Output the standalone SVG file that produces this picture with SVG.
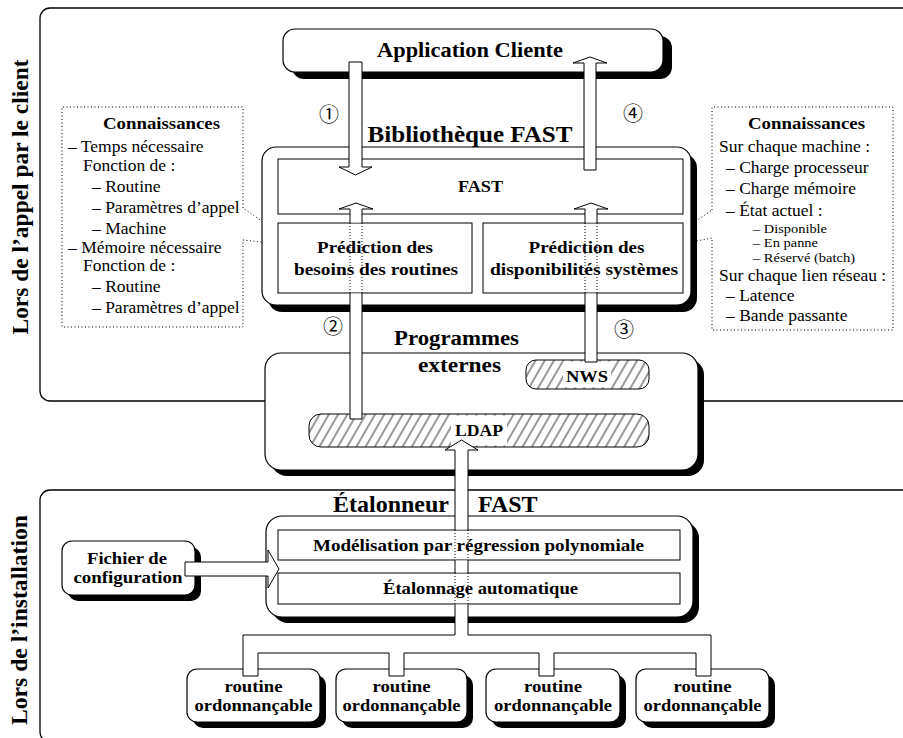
<svg xmlns="http://www.w3.org/2000/svg" width="903" height="738" viewBox="0 0 903 738">
<defs>
<pattern id="hatch" width="8" height="8" patternUnits="userSpaceOnUse" patternTransform="rotate(30)">
<rect width="8" height="8" fill="#fff"/>
<line x1="4" y1="0" x2="4" y2="8" stroke="#000" stroke-width="0.8"/>
</pattern>
</defs>
<style>
.frame{fill:none;stroke:#000;stroke-width:1.3}
.box{fill:#fff;stroke:#000;stroke-width:1.2}
.sh{fill:#000}
.in{fill:#fff;stroke:#000;stroke-width:1}
.hb{fill:url(#hatch);stroke:#000;stroke-width:1}
.dot{fill:none;stroke:#000;stroke-width:1;stroke-dasharray:1 2.5}
.b{font-family:"Liberation Serif","Times New Roman",serif;font-weight:bold;text-anchor:middle;fill:#000}
.r{font-family:"Liberation Serif","Times New Roman",serif;font-size:17.5px;fill:#000}
.s{font-family:"Liberation Serif","Times New Roman",serif;font-size:13px;fill:#000}
.af{fill:#fff;stroke:none}
.as{fill:none;stroke:#000;stroke-width:1}
.aw{fill:#fff;stroke:#000;stroke-width:1}
.ad{fill:none;stroke:#000;stroke-width:1;stroke-dasharray:1 2}
.num{font-family:"Noto Sans CJK JP","DejaVu Sans",sans-serif;font-size:20px;text-anchor:middle;fill:#000}
</style>

<g id="frames">
<rect class="frame" x="40" y="8" width="900" height="393" rx="10"/>
<rect class="frame" x="40" y="490" width="900" height="252" rx="10"/>
<text class="b" transform="translate(28,197) rotate(-90)" font-size="23" textLength="275" lengthAdjust="spacingAndGlyphs">Lors de l’appel par le client</text>
<text class="b" transform="translate(27,620) rotate(-90)" font-size="23" textLength="210" lengthAdjust="spacingAndGlyphs">Lors de l’installation</text>
</g>

<g id="connaissances-routines">
<path class="dot" d="M243,208 V107 H62 V327 H243 V240 L298,246 Z"/>
<text class="b" x="161.5" y="129" font-size="17.5" textLength="117" lengthAdjust="spacingAndGlyphs">Connaissances</text>
<text class="r" x="68" y="152">– Temps nécessaire</text>
<text class="r" x="83" y="171">Fonction de :</text>
<text class="r" x="92" y="192">– Routine</text>
<text class="r" x="92" y="213">– Paramètres d’appel</text>
<text class="r" x="92" y="233.5">– Machine</text>
<text class="r" x="68" y="252.5">– Mémoire nécessaire</text>
<text class="r" x="83" y="271">Fonction de :</text>
<text class="r" x="92" y="292">– Routine</text>
<text class="r" x="92" y="313">– Paramètres d’appel</text>
</g>

<g id="connaissances-systemes">
<path class="dot" d="M712,210 V107 H893 V330 H712 V238 L656,249 Z"/>
<text class="b" x="806.5" y="129" font-size="17.5" textLength="117" lengthAdjust="spacingAndGlyphs">Connaissances</text>
<text class="r" x="719" y="152">Sur chaque machine :</text>
<text class="r" x="726" y="173">– Charge processeur</text>
<text class="r" x="726" y="194">– Charge mémoire</text>
<text class="r" x="726" y="216">– État actuel :</text>
<text class="s" x="753" y="232.5" textLength="74" lengthAdjust="spacingAndGlyphs">– Disponible</text>
<text class="s" x="753" y="247" textLength="65" lengthAdjust="spacingAndGlyphs">– En panne</text>
<text class="s" x="753" y="261.5" textLength="102" lengthAdjust="spacingAndGlyphs">– Réservé (batch)</text>
<text class="r" x="719" y="281">Sur chaque lien réseau :</text>
<text class="r" x="726" y="300.5">– Latence</text>
<text class="r" x="726" y="321">– Bande passante</text>
</g>

<g id="application-cliente">
<rect class="sh" x="292" y="36" width="380" height="43" rx="12"/>
<rect class="box" x="283" y="29" width="380" height="43" rx="12"/>
<text class="b" x="470" y="57" font-size="20" textLength="186" lengthAdjust="spacingAndGlyphs">Application Cliente</text>
</g>

<g id="bibliotheque-fast">
<rect class="sh" x="268" y="154" width="429" height="158" rx="14"/>
<rect class="box" x="262" y="147" width="429" height="158" rx="14"/>
<text class="b" x="470" y="142" font-size="24" textLength="205" lengthAdjust="spacingAndGlyphs">Bibliothèque FAST</text>
<g id="fast">
<rect class="in" x="278" y="159" width="405" height="55"/>
<text class="b" x="480.5" y="192" font-size="17" textLength="45" lengthAdjust="spacingAndGlyphs">FAST</text>
</g>
<g id="prediction-besoins">
<rect class="in" x="278" y="223" width="194" height="70"/>
<text class="b" x="375" y="253" font-size="17" textLength="116" lengthAdjust="spacingAndGlyphs">Prédiction des</text>
<text class="b" x="376" y="275" font-size="17" textLength="164" lengthAdjust="spacingAndGlyphs">besoins des routines</text>
</g>
<g id="prediction-disponibilites">
<rect class="in" x="483" y="223" width="200" height="70"/>
<text class="b" x="586.5" y="253" font-size="17" textLength="116" lengthAdjust="spacingAndGlyphs">Prédiction des</text>
<text class="b" x="584" y="275" font-size="17" textLength="188" lengthAdjust="spacingAndGlyphs">disponibilités systèmes</text>
</g>
</g>

<g id="programmes-externes">
<rect class="sh" x="271" y="359" width="433" height="117" rx="16"/>
<rect class="box" x="265" y="353" width="433" height="117" rx="16"/>
<text class="b" x="456.5" y="345" font-size="20" textLength="125" lengthAdjust="spacingAndGlyphs">Programmes</text>
<text class="b" x="459.5" y="372" font-size="20" textLength="83" lengthAdjust="spacingAndGlyphs">externes</text>
<g id="nws">
<rect class="hb" x="526" y="360" width="123" height="29" rx="10"/>
<rect x="563" y="361.5" width="48" height="26" fill="#fff"/>
<text class="b" x="587" y="382" font-size="16" textLength="42" lengthAdjust="spacingAndGlyphs">NWS</text>
</g>
<g id="ldap">
<rect class="hb" x="309" y="414" width="340" height="33" rx="12"/>
<rect x="451" y="415.5" width="56" height="30" fill="#fff"/>
<text class="b" x="479" y="436" font-size="16" textLength="48" lengthAdjust="spacingAndGlyphs">LDAP</text>
</g>
</g>

<g id="etalonneur-fast">
<rect class="sh" x="272" y="522" width="427" height="101" rx="16"/>
<rect class="box" x="266" y="516" width="427" height="101" rx="16"/>
<text font-family="Liberation Serif, Times New Roman, serif" font-weight="bold" font-size="24" y="512"><tspan x="333">Étalonneur</tspan><tspan x="478">FAST</tspan></text>
<g id="modelisation">
<rect class="in" x="278" y="530" width="402" height="30"/>
<text class="b" x="478.5" y="551" font-size="17" textLength="331" lengthAdjust="spacingAndGlyphs">Modélisation par régression polynomiale</text>
</g>
<g id="etalonnage">
<rect class="in" x="278" y="573" width="402" height="31"/>
<text class="b" x="480.5" y="594" font-size="17" textLength="195" lengthAdjust="spacingAndGlyphs">Étalonnage automatique</text>
</g>
</g>

<g id="fichier-configuration">
<rect class="sh" x="68" y="547" width="133" height="54" rx="10"/>
<rect class="box" x="62" y="541" width="133" height="54" rx="10"/>
<text class="b" x="127" y="564" font-size="16.5" textLength="80" lengthAdjust="spacingAndGlyphs">Fichier de</text>
<text class="b" x="128" y="583" font-size="16.5" textLength="109" lengthAdjust="spacingAndGlyphs">configuration</text>
</g>

<g id="routine-1">
<rect class="sh" x="193" y="675" width="133" height="53" rx="10"/>
<rect class="box" x="187" y="669" width="133" height="53" rx="10"/>
<text class="b" x="253.5" y="692" font-size="17" textLength="58" lengthAdjust="spacingAndGlyphs">routine</text>
<text class="b" x="253.5" y="711" font-size="17" textLength="118" lengthAdjust="spacingAndGlyphs">ordonnançable</text>
</g>
<g id="routine-2">
<rect class="sh" x="342" y="675" width="131" height="53" rx="10"/>
<rect class="box" x="336" y="669" width="131" height="53" rx="10"/>
<text class="b" x="401.5" y="692" font-size="17" textLength="58" lengthAdjust="spacingAndGlyphs">routine</text>
<text class="b" x="401.5" y="711" font-size="17" textLength="118" lengthAdjust="spacingAndGlyphs">ordonnançable</text>
</g>
<g id="routine-3">
<rect class="sh" x="492" y="675" width="134" height="53" rx="10"/>
<rect class="box" x="486" y="669" width="134" height="53" rx="10"/>
<text class="b" x="553" y="692" font-size="17" textLength="58" lengthAdjust="spacingAndGlyphs">routine</text>
<text class="b" x="553" y="711" font-size="17" textLength="118" lengthAdjust="spacingAndGlyphs">ordonnançable</text>
</g>
<g id="routine-4">
<rect class="sh" x="642" y="675" width="133" height="53" rx="10"/>
<rect class="box" x="636" y="669" width="133" height="53" rx="10"/>
<text class="b" x="702.5" y="692" font-size="17" textLength="58" lengthAdjust="spacingAndGlyphs">routine</text>
<text class="b" x="702.5" y="711" font-size="17" textLength="118" lengthAdjust="spacingAndGlyphs">ordonnançable</text>
</g>

<g id="connectors">
<path class="aw" d="M349,62 H362 V167 H372 L355.5,175 L339,167 H349 Z"/>
<path class="aw" d="M584,170 V63 H573 L590,57 L607,63 H596 V170 Z"/>
<path class="af" d="M350,419 V293.5 H362 V419 Z M350,222.5 V209 H339 L356,203 L373,209 H362 V222.5 Z"/>
<path class="as" d="M350,293 V419 H362 V293 M350,223 V209 H339 L356,203 L373,209 H362 V223"/>
<path class="ad" d="M350,223 V293 M362,223 V293"/>
<path class="af" d="M585,362 V293.5 H597 V362 Z M585,222.5 V209 H574 L591,203 L608,209 H597 V222.5 Z"/>
<path class="as" d="M585,293 V362 H597 V293 M585,223 V209 H574 L591,203 L608,209 H597 V223"/>
<path class="ad" d="M585,223 V293 M597,223 V293"/>
<path class="af" d="M455,529.5 V450 H445 L461.5,440 L478,450 H468 V529.5 Z"/>
<path class="as" d="M455,530 V450 H445 L461.5,440 L478,450 H468 V530"/>
<rect class="af" x="455" y="560.5" width="13" height="12"/>
<path class="as" d="M455,560 V573 M468,560 V573"/>
<path class="ad" d="M455,530 V560 M468,530 V560 M455,573 V604 M468,573 V604"/>
<path class="aw" d="M455,604.5 V635 H243 V676 H258 V653 H389 V676 H404 V653 H539 V676 H554 V653 H696 V676 H711 V635 H468 V604.5"/>
<path class="aw" d="M185,562 H268 V550 L279,569 L268,588 V576 H185 Z"/>
<text class="num" x="329" y="122">①</text>
<text class="num" x="633" y="121">④</text>
<text class="num" x="333" y="334">②</text>
<text class="num" x="624" y="337">③</text>
</g>
</svg>
